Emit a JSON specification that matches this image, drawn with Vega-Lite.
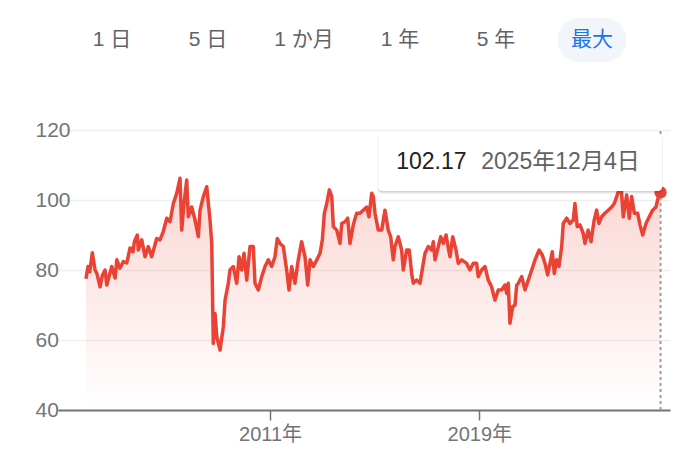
{
  "$schema": "https://vega.github.io/schema/vega-lite/v6.json",
  "padding": {"left": 35, "top": 18, "right": 20, "bottom": 5},
  "autosize": {"type": "pad"},
  "background": "white",
  "spacing": 68,
  "bounds": "flush",
  "config": {
    "view": {"stroke": null},
    "font": "Liberation Sans, Noto Sans CJK JP, sans-serif"
  },
  "datasets": {
    "buttons": [
      {"label": "1 日"}, {"label": "5 日"}, {"label": "1 か月"}, {"label": "1 年"}, {"label": "5 年"}, {"label": "最大"}
    ],
    "series": [
      {"date": "2003-12-19", "value": 77.5},
      {"date": "2004-01-17", "value": 81},
      {"date": "2004-02-10", "value": 79.5},
      {"date": "2004-03-17", "value": 84.9},
      {"date": "2004-04-24", "value": 80},
      {"date": "2004-05-20", "value": 79},
      {"date": "2004-07-03", "value": 75.2},
      {"date": "2004-08-05", "value": 78.5},
      {"date": "2004-09-11", "value": 80},
      {"date": "2004-10-05", "value": 75.7},
      {"date": "2004-12-13", "value": 81},
      {"date": "2005-01-29", "value": 77.7},
      {"date": "2005-02-22", "value": 82.9},
      {"date": "2005-04-05", "value": 80.5},
      {"date": "2005-05-24", "value": 82.4},
      {"date": "2005-07-11", "value": 82},
      {"date": "2005-08-26", "value": 86.3},
      {"date": "2005-10-07", "value": 85.2},
      {"date": "2005-10-25", "value": 88.1},
      {"date": "2005-12-05", "value": 90},
      {"date": "2005-12-19", "value": 85.7},
      {"date": "2006-02-05", "value": 88.6},
      {"date": "2006-03-23", "value": 83.8},
      {"date": "2006-05-08", "value": 86.7},
      {"date": "2006-06-24", "value": 83.8},
      {"date": "2006-09-02", "value": 89},
      {"date": "2006-10-18", "value": 88.6},
      {"date": "2006-12-03", "value": 91},
      {"date": "2007-01-20", "value": 94.8},
      {"date": "2007-03-07", "value": 93.8},
      {"date": "2007-04-22", "value": 99},
      {"date": "2007-06-08", "value": 101.9},
      {"date": "2007-07-24", "value": 106.2},
      {"date": "2007-08-17", "value": 91.4},
      {"date": "2007-09-18", "value": 99},
      {"date": "2007-10-26", "value": 105.7},
      {"date": "2007-11-17", "value": 95.2},
      {"date": "2008-01-03", "value": 98},
      {"date": "2008-02-19", "value": 94.3},
      {"date": "2008-04-05", "value": 89.5},
      {"date": "2008-04-29", "value": 97.1},
      {"date": "2008-06-14", "value": 101},
      {"date": "2008-07-31", "value": 103.8},
      {"date": "2008-09-15", "value": 94.3},
      {"date": "2008-10-09", "value": 87.7},
      {"date": "2008-10-31", "value": 59},
      {"date": "2008-11-24", "value": 67.6},
      {"date": "2008-12-18", "value": 61},
      {"date": "2009-02-02", "value": 57.1},
      {"date": "2009-03-20", "value": 63.8},
      {"date": "2009-04-13", "value": 71.4},
      {"date": "2009-05-28", "value": 76.2},
      {"date": "2009-06-21", "value": 80},
      {"date": "2009-08-06", "value": 81},
      {"date": "2009-09-23", "value": 76.2},
      {"date": "2009-10-25", "value": 83.8},
      {"date": "2009-12-01", "value": 80},
      {"date": "2010-01-03", "value": 84.8},
      {"date": "2010-02-10", "value": 77.1},
      {"date": "2010-03-27", "value": 86.7},
      {"date": "2010-05-12", "value": 86.7},
      {"date": "2010-06-05", "value": 76.2},
      {"date": "2010-07-21", "value": 74.3},
      {"date": "2010-09-07", "value": 78.1},
      {"date": "2010-10-23", "value": 81},
      {"date": "2010-12-08", "value": 82.9},
      {"date": "2011-01-24", "value": 81},
      {"date": "2011-03-11", "value": 83.8},
      {"date": "2011-04-12", "value": 89},
      {"date": "2011-05-20", "value": 87.6},
      {"date": "2011-07-05", "value": 86.7},
      {"date": "2011-08-21", "value": 80},
      {"date": "2011-09-23", "value": 74.3},
      {"date": "2011-10-30", "value": 81},
      {"date": "2011-12-15", "value": 76.2},
      {"date": "2012-01-30", "value": 82.9},
      {"date": "2012-03-17", "value": 88.1},
      {"date": "2012-05-03", "value": 83.8},
      {"date": "2012-06-10", "value": 75.7},
      {"date": "2012-07-12", "value": 82.9},
      {"date": "2012-08-27", "value": 81},
      {"date": "2012-10-14", "value": 82.9},
      {"date": "2012-11-29", "value": 84.8},
      {"date": "2012-12-31", "value": 88.6},
      {"date": "2013-01-28", "value": 96.2},
      {"date": "2013-03-03", "value": 99},
      {"date": "2013-04-08", "value": 102.9},
      {"date": "2013-05-11", "value": 101},
      {"date": "2013-06-03", "value": 92.4},
      {"date": "2013-07-20", "value": 91.4},
      {"date": "2013-09-04", "value": 87.6},
      {"date": "2013-09-28", "value": 93.3},
      {"date": "2013-11-13", "value": 93.8},
      {"date": "2013-12-20", "value": 94.8},
      {"date": "2014-01-21", "value": 87.6},
      {"date": "2014-03-08", "value": 92.9},
      {"date": "2014-04-24", "value": 96.2},
      {"date": "2014-06-09", "value": 96.2},
      {"date": "2014-07-25", "value": 97.1},
      {"date": "2014-09-11", "value": 98},
      {"date": "2014-10-13", "value": 95.2},
      {"date": "2014-11-20", "value": 101.9},
      {"date": "2014-12-12", "value": 101},
      {"date": "2015-01-05", "value": 96.2},
      {"date": "2015-02-20", "value": 91.4},
      {"date": "2015-04-09", "value": 91.4},
      {"date": "2015-05-24", "value": 97.1},
      {"date": "2015-07-09", "value": 91.4},
      {"date": "2015-08-12", "value": 89.5},
      {"date": "2015-09-17", "value": 82.9},
      {"date": "2015-10-11", "value": 86.7},
      {"date": "2015-11-26", "value": 89.5},
      {"date": "2016-01-12", "value": 85.7},
      {"date": "2016-02-04", "value": 80},
      {"date": "2016-03-22", "value": 85.7},
      {"date": "2016-04-27", "value": 85.7},
      {"date": "2016-05-31", "value": 79},
      {"date": "2016-06-22", "value": 76.2},
      {"date": "2016-08-09", "value": 77.1},
      {"date": "2016-09-24", "value": 76.2},
      {"date": "2016-11-09", "value": 81.9},
      {"date": "2016-12-03", "value": 84.8},
      {"date": "2017-01-18", "value": 86.7},
      {"date": "2017-03-07", "value": 85.7},
      {"date": "2017-03-29", "value": 88.1},
      {"date": "2017-04-22", "value": 82.9},
      {"date": "2017-06-07", "value": 86.7},
      {"date": "2017-07-10", "value": 89.5},
      {"date": "2017-08-16", "value": 87.6},
      {"date": "2017-09-23", "value": 90},
      {"date": "2017-10-25", "value": 86.2},
      {"date": "2017-11-17", "value": 83.8},
      {"date": "2017-12-25", "value": 89.5},
      {"date": "2018-02-09", "value": 85.7},
      {"date": "2018-03-13", "value": 81.9},
      {"date": "2018-04-29", "value": 82.9},
      {"date": "2018-07-07", "value": 81.9},
      {"date": "2018-08-22", "value": 80},
      {"date": "2018-10-08", "value": 81.9},
      {"date": "2018-11-24", "value": 81.9},
      {"date": "2018-12-16", "value": 78.1},
      {"date": "2019-02-02", "value": 80},
      {"date": "2019-03-20", "value": 81},
      {"date": "2019-05-05", "value": 77.1},
      {"date": "2019-06-21", "value": 75.2},
      {"date": "2019-08-06", "value": 71.4},
      {"date": "2019-09-22", "value": 74.3},
      {"date": "2019-11-08", "value": 74.3},
      {"date": "2019-12-24", "value": 75.7},
      {"date": "2020-01-17", "value": 73.3},
      {"date": "2020-02-08", "value": 76.2},
      {"date": "2020-03-03", "value": 64.8},
      {"date": "2020-04-10", "value": 69.5},
      {"date": "2020-05-12", "value": 70},
      {"date": "2020-06-05", "value": 75.7},
      {"date": "2020-06-27", "value": 76.2},
      {"date": "2020-08-14", "value": 78.1},
      {"date": "2020-09-29", "value": 74.3},
      {"date": "2020-11-14", "value": 77.1},
      {"date": "2021-01-01", "value": 80},
      {"date": "2021-02-16", "value": 82.9},
      {"date": "2021-04-13", "value": 85.7},
      {"date": "2021-05-28", "value": 84.3},
      {"date": "2021-07-05", "value": 81.9},
      {"date": "2021-08-11", "value": 78.6},
      {"date": "2021-09-13", "value": 81.9},
      {"date": "2021-10-15", "value": 85.2},
      {"date": "2021-11-12", "value": 79},
      {"date": "2021-12-15", "value": 82.9},
      {"date": "2022-01-16", "value": 81},
      {"date": "2022-02-23", "value": 86.7},
      {"date": "2022-03-17", "value": 93.3},
      {"date": "2022-05-04", "value": 94.8},
      {"date": "2022-06-19", "value": 93.3},
      {"date": "2022-08-04", "value": 94.3},
      {"date": "2022-08-27", "value": 99},
      {"date": "2022-09-28", "value": 92.4},
      {"date": "2022-11-05", "value": 92.9},
      {"date": "2022-12-20", "value": 90.5},
      {"date": "2023-01-14", "value": 87.6},
      {"date": "2023-02-28", "value": 91.4},
      {"date": "2023-04-08", "value": 88.1},
      {"date": "2023-05-23", "value": 94.3},
      {"date": "2023-06-26", "value": 97.1},
      {"date": "2023-07-28", "value": 93.3},
      {"date": "2023-09-04", "value": 95.2},
      {"date": "2023-10-20", "value": 96.2},
      {"date": "2023-12-05", "value": 97.1},
      {"date": "2024-01-22", "value": 98},
      {"date": "2024-02-27", "value": 99},
      {"date": "2024-04-01", "value": 101},
      {"date": "2024-05-03", "value": 102.9},
      {"date": "2024-05-31", "value": 104.3},
      {"date": "2024-07-02", "value": 95.2},
      {"date": "2024-08-18", "value": 101.4},
      {"date": "2024-09-24", "value": 94.8},
      {"date": "2024-10-27", "value": 101},
      {"date": "2024-12-03", "value": 96.2},
      {"date": "2025-01-19", "value": 96.2},
      {"date": "2025-02-20", "value": 92.9},
      {"date": "2025-03-30", "value": 90},
      {"date": "2025-05-15", "value": 93.3},
      {"date": "2025-06-30", "value": 95.2},
      {"date": "2025-08-16", "value": 97.1},
      {"date": "2025-10-01", "value": 98},
      {"date": "2025-11-05", "value": 101},
      {"date": "2025-12-04", "value": 102.17}
    ]
  },
  "vconcat": [
    {
      "width": 588,
      "height": 44,
      "data": {"name": "buttons"},
      "encoding": {
        "x": {
          "field": "label",
          "type": "nominal",
          "sort": null,
          "scale": {"type": "band", "domain": ["1 日", "5 日", "1 か月", "1 年", "5 年", "最大"], "paddingInner": 0, "paddingOuter": 0.0625},
          "axis": null
        }
      },
      "layer": [
        {
          "transform": [{"filter": "datum.label == '最大'"}],
          "mark": {"type": "rect", "width": 69, "cornerRadius": 22, "color": "#f2f5f9"}
        },
        {
          "mark": {"type": "text", "fontSize": 21},
          "encoding": {
            "text": {"field": "label"},
            "color": {"condition": {"test": "datum.label == '最大'", "value": "#1a73e8"}, "value": "#5f6368"}
          }
        }
      ]
    },
    {
      "width": 612,
      "height": 280,
      "data": {"name": "series"},
      "encoding": {
        "x": {
          "field": "date",
          "type": "temporal",
          "scale": {
            "type": "utc",
            "domain": [{"year": 2002, "month": 11, "date": 24, "utc": true}, {"year": 2026, "month": 4, "date": 15, "utc": true}]
          },
          "axis": {
            "values": [{"year": 2011, "month": 1, "date": 1, "utc": true}, {"year": 2019, "month": 1, "date": 1, "utc": true}],
            "labelExpr": "utcFormat(datum.value, '%Y') + '年'",
            "title": null,
            "grid": false,
            "domainColor": "#70757a",
            "domainWidth": 2,
            "tickColor": "#70757a",
            "tickWidth": 1.5,
            "tickSize": 10,
            "labelColor": "#70757a",
            "labelFontSize": 20,
            "labelPadding": 4
          }
        },
        "y": {
          "field": "value",
          "type": "quantitative",
          "scale": {"domain": [40, 120], "nice": false, "zero": false},
          "axis": {
            "values": [40, 60, 80, 100, 120],
            "title": null,
            "domain": false,
            "ticks": false,
            "tickSize": 0,
            "labelAlign": "left",
            "labelPadding": 23,
            "labelColor": "#70757a",
            "labelFontSize": 21,
            "gridColor": "#efefef",
            "gridWidth": 1.5
          }
        }
      },
      "layer": [
        {
          "mark": {
            "type": "area",
            "color": {
              "gradient": "linear",
              "x1": 0, "y1": 0, "x2": 0, "y2": 1,
              "stops": [
                {"offset": 0, "color": "rgba(234,67,53,0.22)"},
                {"offset": 1, "color": "rgba(234,67,53,0)"}
              ]
            }
          },
          "encoding": {"y2": {"datum": 40}}
        },
        {
          "mark": {"type": "line", "color": "#ea4335", "strokeWidth": 3.5, "strokeJoin": "round"}
        },
        {
          "transform": [
            {"window": [{"op": "row_number", "as": "r"}], "sort": [{"field": "date", "order": "descending"}]},
            {"filter": "datum.r == 1"},
            {"calculate": "format(datum.value, '.2f')", "as": "vtext"},
            {"calculate": "utcFormat(toDate(datum.date), '%Y年%-m月%-d日')", "as": "dtext"}
          ],
          "layer": [
            {
              "mark": {"type": "rule", "color": "#9aa0a6", "strokeWidth": 2, "strokeDash": [3, 3]},
              "encoding": {"y": {"datum": 40}, "y2": {"datum": 120}}
            },
            {
              "mark": {"type": "point", "filled": true, "size": 150, "color": "#ea4335", "opacity": 1}
            },
            {
              "mark": {"type": "rect", "fill": "#000000", "opacity": 0.05, "cornerRadius": 5, "xOffset": -283.4, "x2Offset": 2.6, "yOffset": -57.4, "y2Offset": 1.6},
              "encoding": {"x2": {"field": "date"}, "y2": {"field": "value"}}
            },
            {
              "mark": {"type": "rect", "fill": "#000000", "opacity": 0.12, "cornerRadius": 4, "xOffset": -282.4, "x2Offset": 1.6, "yOffset": -56.4, "y2Offset": 0.1},
              "encoding": {"x2": {"field": "date"}, "y2": {"field": "value"}}
            },
            {
              "mark": {"type": "rect", "fill": "#ffffff", "opacity": 1, "cornerRadius": 4, "xOffset": -282.4, "x2Offset": 1.6, "yOffset": -57.4, "y2Offset": -1.4},
              "encoding": {"x2": {"field": "date"}, "y2": {"field": "value"}}
            },
            {
              "mark": {"type": "text", "align": "left", "baseline": "middle", "dx": -264.4, "dy": -30.4, "fontSize": 23, "color": "#202124"},
              "encoding": {"text": {"field": "vtext"}}
            },
            {
              "mark": {"type": "text", "align": "left", "baseline": "middle", "dx": -179.4, "dy": -30.4, "fontSize": 23, "color": "#5f6368"},
              "encoding": {"text": {"field": "dtext"}}
            }
          ]
        }
      ]
    }
  ]
}
